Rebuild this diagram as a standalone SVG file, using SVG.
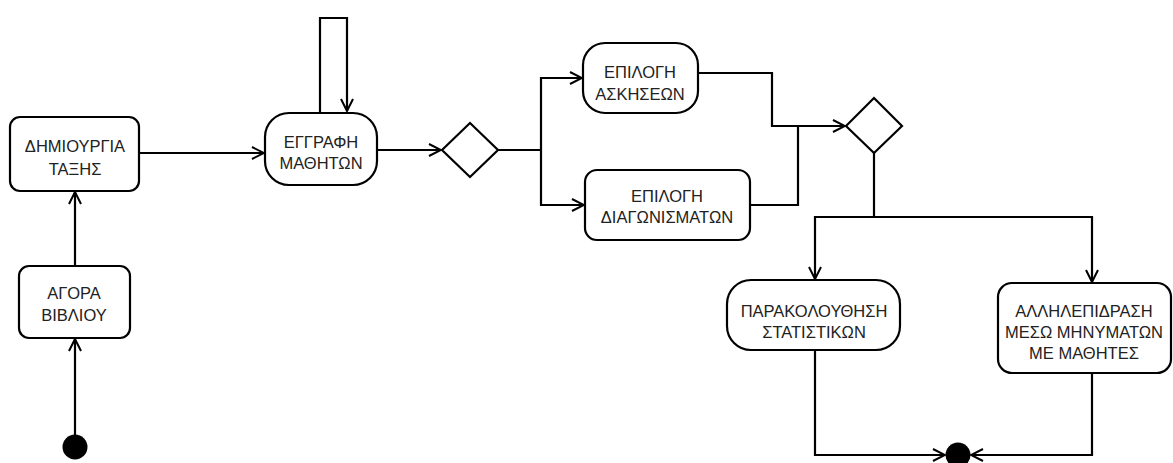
<svg xmlns="http://www.w3.org/2000/svg" width="1173" height="463" viewBox="0 0 1173 463">
  <style>
    .node { fill: #ffffff; stroke: #000000; stroke-width: 2.2; }
    .dec { fill: #ffffff; stroke: #000000; stroke-width: 2.2; }
    .dot { fill: #000000; }
    .lbl { font-family: "Liberation Sans", Arial, sans-serif; font-size: 16.5px; fill: #222222; text-anchor: middle; }
    .edge { fill: none; stroke: #000000; stroke-width: 2.2; }
    .arr { marker-end: url(#open); }
  </style>
  <defs>
    <marker id="open" viewBox="0 0 14 14" refX="13" refY="7" markerWidth="14" markerHeight="14" markerUnits="userSpaceOnUse" orient="auto">
      <path d="M1,1 L13,7 L1,13" fill="none" stroke="#000000" stroke-width="2"/>
    </marker>
  </defs>
  <rect width="1173" height="463" fill="#ffffff"/>

  <!-- connectors -->
  <g id="connectors">
    <path class="edge arr" d="M75,435 V339"/>
    <path class="edge arr" d="M75,266 V192"/>
    <path class="edge arr" d="M139,153 H264"/>
    <path class="edge arr" d="M320,113 V18 H347 V111"/>
    <path class="edge arr" d="M377,150 H441"/>
    <path class="edge" d="M498,150 H541"/>
    <path class="edge arr" d="M541,150 V78 H582"/>
    <path class="edge arr" d="M541,150 V205 H584"/>
    <path class="edge arr" d="M698,73 H772 V126 H845"/>
    <path class="edge" d="M750,205 H798 V126"/>
    <path class="edge" d="M874,153 V217"/>
    <path class="edge arr" d="M874,217 H815 V279"/>
    <path class="edge arr" d="M874,217 H1092 V282"/>
    <path class="edge arr" d="M815,350 V455 H945"/>
    <path class="edge arr" d="M1092,373 V455 H971"/>
  </g>

  <!-- start -->
  <g id="start">
    <circle class="dot" cx="75" cy="447" r="12.5"/>
  </g>

  <g id="agora-vivliou">
    <rect class="node" x="19" y="266" width="111" height="72" rx="10"/>
    <text class="lbl" x="74" y="299">ΑΓΟΡΑ</text>
    <text class="lbl" x="74" y="321">ΒΙΒΛΙΟΥ</text>
  </g>

  <g id="dimiourgia-taxis">
    <rect class="node" x="10" y="117" width="129" height="74" rx="10"/>
    <text class="lbl" x="75" y="152">ΔΗΜΙΟΥΡΓΙΑ</text>
    <text class="lbl" x="75" y="175">ΤΑΞΗΣ</text>
  </g>

  <g id="eggrafi-mathiton">
    <rect class="node" x="265" y="113" width="112" height="72" rx="24"/>
    <text class="lbl" x="321" y="148">ΕΓΓΡΑΦΗ</text>
    <text class="lbl" x="321" y="169">ΜΑΘΗΤΩΝ</text>
  </g>

  <g id="decision-1">
    <polygon class="dec" points="442,150 470,123 498,150 470,177"/>
  </g>

  <g id="epilogi-askiseon">
    <rect class="node" x="583" y="43" width="115" height="70" rx="22"/>
    <text class="lbl" x="640" y="78">ΕΠΙΛΟΓΗ</text>
    <text class="lbl" x="640" y="100">ΑΣΚΗΣΕΩΝ</text>
  </g>

  <g id="epilogi-diagonismaton">
    <rect class="node" x="585" y="170" width="165" height="70" rx="12"/>
    <text class="lbl" x="667" y="202">ΕΠΙΛΟΓΗ</text>
    <text class="lbl" x="667" y="223">ΔΙΑΓΩΝΙΣΜΑΤΩΝ</text>
  </g>

  <g id="decision-2">
    <polygon class="dec" points="846,126 874,98 902,126 874,153"/>
  </g>

  <g id="parakolouthisi">
    <rect class="node" x="727" y="280" width="173" height="70" rx="24"/>
    <text class="lbl" x="814" y="317">ΠΑΡΑΚΟΛΟΥΘΗΣΗ</text>
    <text class="lbl" x="814" y="338">ΣΤΑΤΙΣΤΙΚΩΝ</text>
  </g>

  <g id="allilepidrasi">
    <rect class="node" x="998" y="283" width="173" height="90" rx="14"/>
    <text class="lbl" x="1084" y="317">ΑΛΛΗΛΕΠΙΔΡΑΣΗ</text>
    <text class="lbl" x="1084" y="338">ΜΕΣΩ ΜΗΝΥΜΑΤΩΝ</text>
    <text class="lbl" x="1084" y="359">ΜΕ ΜΑΘΗΤΕΣ</text>
  </g>

  <!-- end -->
  <g id="end">
    <circle class="dot" cx="958" cy="455" r="12.5"/>
  </g>
</svg>
